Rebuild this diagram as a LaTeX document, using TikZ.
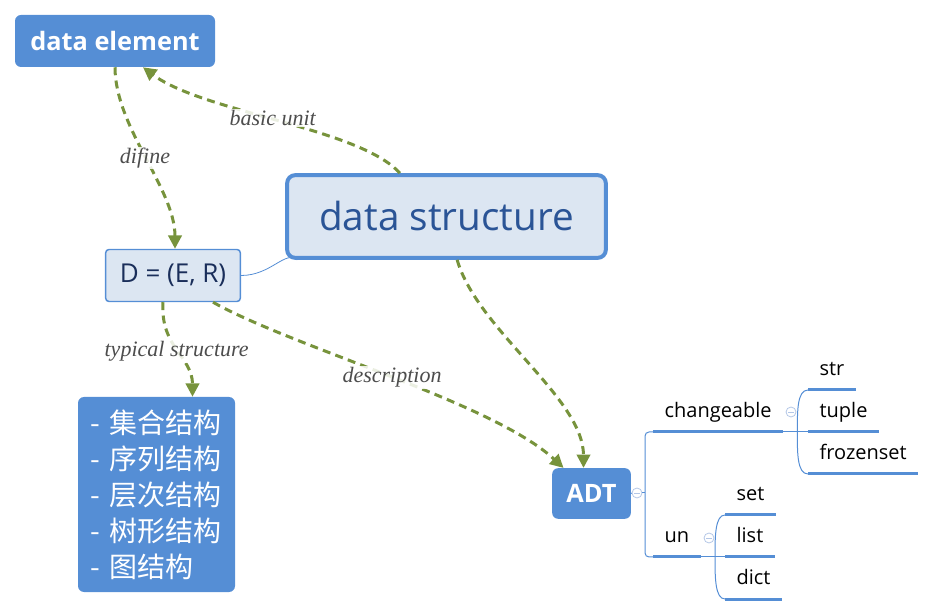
\documentclass[tikz,border=0pt]{standalone}
\usepackage{fontspec}
\setmainfont{Open Sans}
\newfontfamily\cjk{Noto Sans CJK SC}
\newfontfamily\lblfont{Liberation Serif}
\usepackage{tikz}
\usetikzlibrary{arrows.meta}

\begin{document}
\begin{tikzpicture}[x=0.75pt,y=0.75pt,yscale=-1,xscale=1,
  bluebox/.style={fill={rgb, 255:red, 85; green, 142; blue, 213}, text=white, rounded corners=4.5pt},
  palebox/.style={draw={rgb, 255:red, 85; green, 142; blue, 213}, fill={rgb, 255:red, 220; green, 230; blue, 242}, rounded corners=2.5pt},
  rel/.style={draw={rgb, 255:red, 119; green, 147; blue, 60}, line width=2.25pt, dash pattern={on 6pt off 4pt}, -{Triangle[length=10pt,width=10pt]}},
  rellbl/.style={font=\lblfont\itshape\fontsize{16.5}{18}\selectfont, text={rgb, 255:red, 77; green, 77; blue, 77}, fill=white, fill opacity=0.85, text opacity=1, inner sep=1pt},
  tline/.style={draw={rgb, 255:red, 85; green, 142; blue, 213}, line width=0.75pt},
  uline/.style={draw={rgb, 255:red, 85; green, 142; blue, 213}, line width=2.25pt},
  leaf/.style={anchor=south west, font=\fontsize{15}{18}\selectfont, inner xsep=8.5pt, inner ysep=10.5pt, text depth=0pt},
  fold/.style={circle, draw={rgb, 255:red, 180; green, 199; blue, 231}, line width=0.6pt, fill=white, minimum size=7.5pt, inner sep=0pt,
    path picture={\draw [draw={rgb, 255:red, 180; green, 199; blue, 231}, line width=0.6pt] ([xshift=-2pt]path picture bounding box.center) -- ([xshift=2pt]path picture bounding box.center);}}
]
\useasboundingbox (0,0) rectangle (936,616);

%Shape: Rectangle [id:de] 
\node [bluebox, minimum width=150pt, minimum height=39pt, font=\bfseries\fontsize{19}{22}\selectfont] (de) at (115,41) {data element};
%Shape: Rectangle [id:ds] 
\node [palebox, line width=3pt, rounded corners=6pt, minimum width=239pt, minimum height=62pt, text={rgb, 255:red, 42; green, 84; blue, 150}, font=\fontsize{29}{34}\selectfont] (ds) at (446.5,216.5) {data structure};
%Shape: Rectangle [id:dfr] 
\node [palebox, line width=1.1pt, minimum width=101pt, minimum height=39pt, text={rgb, 255:red, 26; green, 46; blue, 90}, font=\fontsize{19.5}{22}\selectfont] (dfr) at (173,275.5) {D = (E, R)};
%Shape: Rectangle [id:kinds] 
\node [bluebox, minimum height=146.25pt, text width=99.75pt, inner xsep=9pt, align=left, font=\cjk\fontsize{21}{27}\selectfont] (kinds) at (156.5,494.5) {- 集合结构\\- 序列结构\\- 层次结构\\- 树形结构\\- 图结构};
%Shape: Rectangle [id:adt] 
\node [bluebox, minimum width=59pt, minimum height=38pt, font=\bfseries\fontsize{19}{22}\selectfont] (adt) at (591.5,493.5) {ADT};

%Curve Lines [id:basic] 
\draw [rel] ([xshift=-35pt]ds.north) .. controls +(-40,-45) and +(60,45) .. ([xshift=21pt]de.south) node [rellbl, pos=0.52] {basic unit};
%Curve Lines [id:difine] 
\draw [rel] (de.south) .. controls +(0,60) and +(0,-60) .. ([xshift=1.5pt]dfr.north) node [rellbl, pos=0.5] {difine};
%Curve Lines [id:typical] 
\draw [rel] ([xshift=-7.5pt]dfr.south) .. controls +(-3,45) and +(0,-40) .. ([xshift=27pt]kinds.north) node [rellbl, pos=0.5] {typical structure};
%Curve Lines [id:descr] 
\draw [rel] ([xshift=30pt]dfr.south) .. controls +(80,45) and +(-70,-65) .. ([xshift=-21pt]adt.north) node [rellbl, pos=0.5] {description};
%Curve Lines [id:dsadt] 
\draw [rel] ([xshift=8pt]ds.south) .. controls +(20,70) and +(0,-70) .. ([xshift=-6pt]adt.north);
%Curve Lines [id:dslink] 
\draw [tline, line width=0.6pt] (dfr.east) .. controls +(30,0) and +(-12,-10) .. ([xshift=9pt]ds.south west);

% Text Node
\node [leaf] (chg) at (653,432) {changeable};
% Text Node
\node [leaf] (un) at (653,557) {un};
% Text Node
\node [leaf] (str) at (808,390) {str};
% Text Node
\node [leaf] (tpl) at (808,432) {tuple};
% Text Node
\node [leaf] (fzs) at (808,474) {frozenset};
% Text Node
\node [leaf] (set) at (725,515) {set};
% Text Node
\node [leaf] (lst) at (725,557) {list};
% Text Node
\node [leaf] (dct) at (725,599) {dict};

%Straight Lines [id:underlines] 
\draw [uline] (chg.south west) -- (chg.south east);
\draw [uline] (un.south west) -- (un.south east);
\draw [uline] (str.south west) -- (str.south east);
\draw [uline] (tpl.south west) -- (tpl.south east);
\draw [uline] (fzs.south west) -- (fzs.south east);
\draw [uline] (set.south west) -- (set.south east);
\draw [uline] (lst.south west) -- (lst.south east);
\draw [uline] (dct.south west) -- (dct.south east);

%Straight Lines [id:adtbranch] 
\node [fold] (fa) at (637,493) {};
\draw [tline] (adt.east) -- (fa.west);
\draw [tline] (fa.east) -- ++(3,0);
\draw [tline, rounded corners=3pt] (chg.south west) -| ([xshift=-6pt]un.south west) -- (un.south west);
%Curve Lines [id:chgbranch] 
\node [fold] (fc) at (791,412) {};
\draw [tline] (chg.south east) -- (tpl.south west);
\draw [tline] (str.south west) .. controls +(-11,0) and +(0,-20) .. ([xshift=-8pt]tpl.south west) .. controls +(0,20) and +(-11,0) .. (fzs.south west);
%Curve Lines [id:unbranch] 
\node [fold] (fu) at (709,538) {};
\draw [tline] (un.south east) -- (lst.south west);
\draw [tline] (set.south west) .. controls +(-10,0) and +(0,-20) .. ([xshift=-7.5pt]lst.south west) .. controls +(0,20) and +(-10,0) .. (dct.south west);

\end{tikzpicture}
\end{document}
